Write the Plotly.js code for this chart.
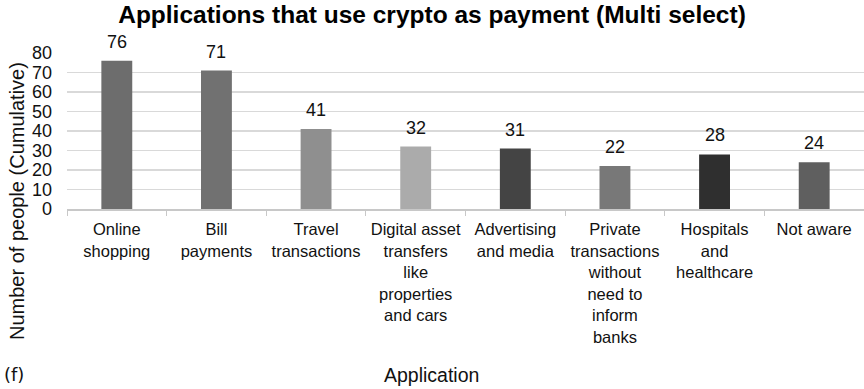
<!DOCTYPE html>
<html><head><meta charset="utf-8">
<script src="https://cdn.plot.ly/plotly-3.0.1.min.js"></script>
<style>html,body{margin:0;padding:0;background:#fff;overflow:hidden}#c{width:864px;height:389px}</style>
</head><body><div id="c"></div>
<script>
const categories = [
  "Online<br>shopping",
  "Bill<br>payments",
  "Travel<br>transactions",
  "Digital asset<br>transfers<br>like<br>properties<br>and cars",
  "Advertising<br>and media",
  "Private<br>transactions<br>without<br>need to<br>inform<br>banks",
  "Hospitals<br>and<br>healthcare",
  "Not aware"
];
const values = [76, 71, 41, 32, 31, 22, 28, 24];
const barColors = ["#6d6d6d", "#717171", "#8f8f8f", "#ababab", "#444444", "#787878", "#2f2f2f", "#5f5f5f"];
const yTicks = [0, 10, 20, 30, 40, 50, 60, 70, 80];

const font = "Liberation Sans, Arial, sans-serif";
const labelAnns = categories.map((c, i) => ({
  x: c, y: values[i], xref: "x", yref: "y", text: String(values[i]),
  showarrow: false, yanchor: "bottom", yshift: 7,
  font: {family: font, size: 18, color: "#111"}
}));
Plotly.newPlot("c", [{
  type: "bar",
  x: categories,
  y: values,
  marker: {color: barColors, line: {width: 0}},
  hoverinfo: "none"
}], {
  width: 864, height: 389,
  margin: {l: 67, r: 0, t: 53, b: 180},
  paper_bgcolor: "#fff", plot_bgcolor: "#fff",
  bargap: 0.69,
  showlegend: false,
  font: {family: font, size: 17, color: "#111"},
  title: {text: "<b>Applications that use crypto as payment (Multi select)</b>",
          font: {family: font, size: 24.5, color: "#000"},
          x: 0.5, xanchor: "center", y: 0.964, yanchor: "middle"},
  xaxis: {
    type: "category",
    tickson: "boundaries",
    ticks: "outside", ticklen: 5, tickcolor: "#c8c8c8",
    showline: true, linecolor: "#c8c8c8", linewidth: 1.5,
    showgrid: false,
    tickangle: 0,
    ticklabelstandoff: 5,
    tickfont: {family: font, size: 16.5, color: "#111"}
  },
  yaxis: {
    range: [0, 80],
    tickvals: yTicks,
    ticks: "",
    ticklabelstandoff: 14,
    showline: false,
    showgrid: true, gridcolor: "#d9d9d9", gridwidth: 1.5,
    zeroline: false,
    tickfont: {family: font, size: 18, color: "#111"}
  },
  annotations: labelAnns.concat([{
    text: "Number of people (Cumulative)", textangle: -90,
    xref: "paper", yref: "paper", x: (17 - 67) / 797, y: (209 - 201) / 156,
    xanchor: "center", yanchor: "middle", showarrow: false,
    font: {family: font, size: 20, color: "#111"}
  }, {
    text: "Application", xref: "paper", yref: "paper",
    x: (431 - 67) / 797, y: (209 - 375) / 156,
    xanchor: "center", yanchor: "middle", showarrow: false,
    font: {family: font, size: 19.5, color: "#111"}
  }, {
    text: "(f)", xref: "paper", yref: "paper", x: -65 / 797, y: (209 - 375) / 156,
    xanchor: "left", yanchor: "middle", showarrow: false,
    font: {family: "DejaVu Sans, sans-serif", size: 18, color: "#111"}
  }])
}, {staticPlot: true});
</script>
</body></html>
